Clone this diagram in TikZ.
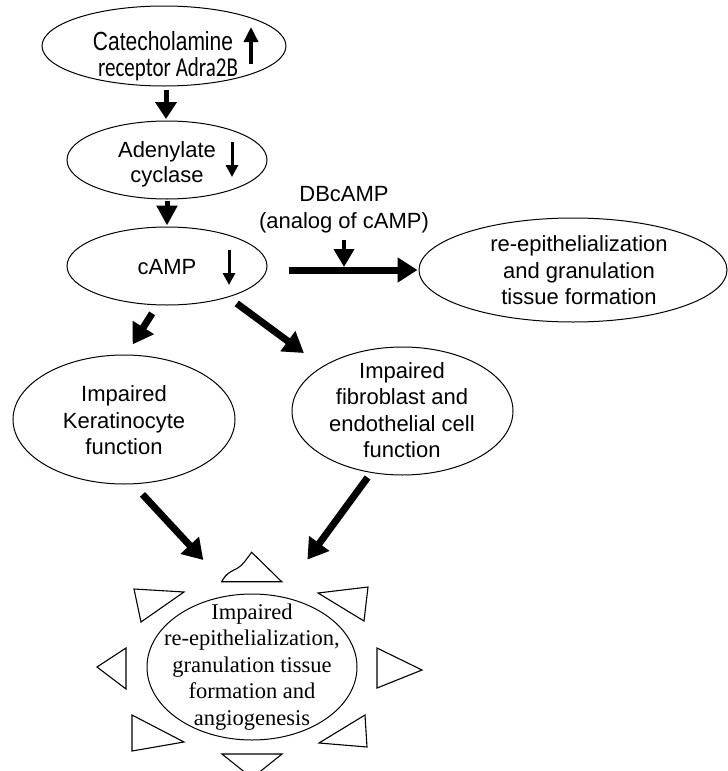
\documentclass[tikz,border=0pt]{standalone}
\usepackage{fontspec}
\setmainfont{Liberation Sans}
\newfontfamily\calibrifont{Carlito}
\newfontfamily\timesfont{Liberation Serif}
\usetikzlibrary{shapes.geometric,arrows.meta}
\begin{document}
\begin{tikzpicture}[x=1pt,y=-1pt,
  oval/.style={draw, ellipse, line width=1pt, inner sep=0pt},
  txt/.style={align=center, inner sep=0pt, font=\fontsize{22}{26.5}\selectfont},
  bigarrow/.style={line width=7pt, -{Triangle[length=20pt,width=24pt]}},
  toparrow/.style={line width=5pt, -{Triangle[length=17pt,width=21pt]}},
  midarrow/.style={line width=5pt, -{Triangle[length=20pt,width=20pt]}},
  dbarrow/.style={line width=4pt, -{Triangle[length=18pt,width=20pt]}},
  tinyarrow/.style={line width=3pt, -{Triangle[length=12pt,width=12pt]}},
  ray/.style={draw, line width=1.1pt, line join=miter, fill=white},
]
\useasboundingbox (0,0) rectangle (728,771);
\clip (0,0) rectangle (728,771);

% ellipses
\node[oval, minimum width=244pt, minimum height=80pt] (cat) at (164,46) {};
\node[oval, minimum width=200pt, minimum height=78pt] (ade) at (167,160) {};
\node[oval, minimum width=200pt, minimum height=78pt] (camp) at (167,266) {};
\node[oval, minimum width=308pt, minimum height=104pt] (reep) at (573,270) {};
\node[oval, minimum width=222pt, minimum height=129pt] (ker) at (124,419.5) {};
\node[oval, minimum width=221pt, minimum height=128pt] (fib) at (402.5,411) {};
\node[oval, minimum width=210pt, minimum height=146pt] (out) at (252,667) {};

% texts
\node[inner sep=0pt, anchor=base, font=\fontsize{21}{25}\selectfont] (catA) at (163,50) {\scalebox{1}[1.25]{Catecholamine}};
\node[inner sep=0pt, anchor=base, font=\calibrifont\fontsize{21}{25}\selectfont] (catB) at (168,76) {\scalebox{1}[1.3]{receptor Adra2B}};
\node[txt, font=\fontsize{22}{25}\selectfont] (adeT) at (167,164.5) {\strut Adenylate\\\strut cyclase};
\node[txt, anchor=base] (campT) at (167,274) {cAMP};
\node[txt] (db) at (344,209.6) {\strut DBcAMP\\\strut (analog of cAMP)};
\node[txt] (reepT) at (579,273.1) {\strut re-epithelialization\\\strut and granulation\\\strut tissue formation};
\node[txt] (kerT) at (124,423.1) {\strut Impaired\\\strut Keratinocyte\\\strut function};
\node[txt] (fibT) at (402,412.75) {\strut Impaired\\\strut fibroblast and\\\strut endothelial cell\\\strut function};
\node[txt, font=\timesfont\fontsize{22.5}{26.5}\selectfont] (outT) at (252,666.75) {\strut Impaired\\\strut re-epithelialization,\\\strut granulation tissue\\\strut formation and\\\strut angiogenesis};

% small up/down indicator arrows
\draw[tinyarrow, line width=3.5pt, -{Triangle[length=15pt,width=14pt]}] (251,64) -- (251,27);
\draw[tinyarrow] (232,142) -- (232,177);
\draw[tinyarrow] (229,250) -- (229,285);

% connectors
\draw[toparrow, shorten <=3pt, shorten >=1.5pt] ([xshift=2pt]cat.south) -- ([xshift=-1pt]ade.north);
\draw[midarrow, shorten <=1pt, shorten >=1pt] (ade.south) -- (camp.north);
\draw[bigarrow, shorten <=21pt, shorten >=1pt] (camp.east |- reep.west) -- (reep.west);
\coordinate (join) at (344,267);
\draw[dbarrow, shorten <=4pt] (db.south) -- (join);
\draw[bigarrow, shorten <=9.5pt, shorten >=12pt] (camp.256) -- (ker.88);
\draw[bigarrow, shorten <=10.4pt, shorten >=22.7pt] (camp.333) -- (fib.151);
\draw[bigarrow, shorten <=13.8pt, shorten >=47pt] (ker.278) -- (out.103);
\draw[bigarrow, shorten <=5.8pt, shorten >=45.5pt] (fib.243) -- (out.68);

% rays around the outcome
\draw[ray] (221.7,581.7) .. controls (226,573) and (232,571) .. (237,568.5)
  .. controls (243,565.5) and (247,558) .. (251.7,552.3) -- (281.7,581.7) -- cycle;
\draw[ray] (134,589) -- (184,592) -- (141,622) -- cycle;
\draw[ray] (318,593) -- (368,587) -- (364,621) -- cycle;
\draw[ray] (97,667) -- (126,648) -- (126,689) -- cycle;
\draw[ray] (377,648) -- (422,670) -- (377,688) -- cycle;
\draw[ray] (132,715) -- (132,751) -- (184,742) -- cycle;
\draw[ray] (365,715) -- (367,747) -- (319,743) -- cycle;
\draw[ray] (222,754) -- (282,754) -- (252,778) -- cycle;
\end{tikzpicture}
\end{document}
